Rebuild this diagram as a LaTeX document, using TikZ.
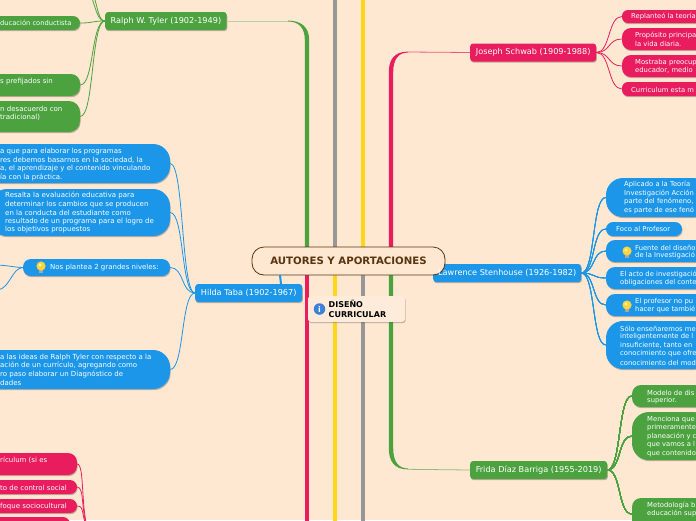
\documentclass[tikz,border=0pt]{standalone}
\usepackage{fontspec}
\setmainfont{DejaVu Sans}
\usetikzlibrary{shadows,calc}
\definecolor{bg}{HTML}{FEE8D2}
\definecolor{cgreen}{HTML}{4CA23F}
\definecolor{cred}{HTML}{E91C5E}
\definecolor{cblue}{HTML}{1B96E8}
\definecolor{cgrey}{HTML}{979797}
\definecolor{cyellow}{HTML}{FFD618}
\definecolor{cbrown}{HTML}{5A3510}
\definecolor{cbulb}{HTML}{FFD23F}
\definecolor{cinfo}{HTML}{3B82D8}
\tikzset{
 x=1pt,y=-1pt,
 softshadow/.style={drop shadow={shadow xshift=0.6pt,shadow yshift=-1.2pt,opacity=.25,fill=black}},
 bigbox/.style={rounded corners=3pt,text=white,font=\fontsize{8.15}{10}\selectfont,inner sep=0pt,anchor=west,minimum height=18pt,align=center,softshadow},
 leafshape/.style={inner sep=0pt,softshadow},
 leaf/.style={text=white,font=\fontsize{7}{8.4}\selectfont,inner sep=0pt,align=left,anchor=west},
 rleaf/.style={leaf,font=\fontsize{6.8}{8.4}\selectfont},
 stem/.style={line width=4.5pt},
 twig/.style={line width=.8pt},
}
\newcommand{\leafbox}[7]{% name colour x1 y1 x2 y2 radius
 \node[leafshape,fill=#2,rounded corners=#7,minimum width=#5-#3,minimum height=#6-#4] (#1) at ({(#3+#5)/2},{(#4+#6)/2}) {};
}
\newcommand{\bulb}[2]{%
 \fill[gray!70] (#1-1.8,#2+3) rectangle (#1+1.8,#2+6);
 \fill[cbulb] (#1,#2-1) circle (4.6);
 \fill[yellow!40] (#1-1,#2-2) circle (1.7);
}
\newcommand{\joinlr}[3]{% colour, from node east, to node west
 \draw[twig,#1] (#2.east) .. controls ($(#2.east)+(14,0)$) and ($(#3.west)+(-14,0)$) .. (#3.west);
}
\begin{document}
\begin{tikzpicture}
\useasboundingbox (0,0) rectangle (696,520);
\clip (0,0) rectangle (696,520);
\fill[bg] (0,0) rectangle (696,520);
% main stems
\draw[stem,cgrey] (335,-5) -- (335,250);
\draw[stem,cyellow] (363,-5) -- (363,250);
\draw[stem,cyellow] (335,250) -- (335,525);
\draw[stem,cgrey] (363,250) -- (363,525);
\draw[stem,cred] (307,250) -- (307,525);
\fill[cgreen] (304.8,250) -- (304.8,40) .. controls (304.8,28) and (299,21.5) .. (288,21.5) -- (288,20.6) .. controls (302,20.6) and (309.2,28) .. (309.2,40) -- (309.2,250) -- cycle;
\fill[cred] (388.8,250) -- (388.8,72) .. controls (388.8,60) and (394,51.6) .. (408,51.6) -- (408,52.5) .. controls (398,52.5) and (393.2,60) .. (393.2,72) -- (393.2,250) -- cycle;
\fill[cgreen] (388.8,250) -- (388.8,448) .. controls (388.8,461) and (394,469.4) .. (408,469.4) -- (408,468.5) .. controls (398,468.5) and (393.2,461) .. (393.2,448) -- (393.2,250) -- cycle;
% level two boxes
\node[bigbox,fill=cgreen,minimum width=121.5pt] (tyler) at (105,21) {Ralph W. Tyler (1902-1949)};
\node[bigbox,fill=cblue,minimum width=107pt] (taba) at (195,293) {Hilda Taba (1902-1967)};
\node[bigbox,fill=cred,minimum width=126pt] (schwab) at (470,52.5) {Joseph Schwab (1909-1988)};
\node[bigbox,fill=cblue,minimum width=148pt] (stenhouse) at (433,273) {};
\node[bigbox,fill=cgreen,minimum width=137pt] (frida) at (470,470) {Frida Díaz Barriga (1955-2019)};
\draw[line width=.8pt,cgreen!35!bg] (tyler.east) -- (288,21);
\draw[line width=.8pt,cred!70!bg] (408,52) -- (schwab.west);
\draw[line width=.8pt,cgreen!60!bg] (408,469.3) -- (frida.west);
% leaf shapes
\leafbox{g1}{cgreen}{-30}{16}{80}{30}{7pt}
\leafbox{g2}{cgreen}{-30}{74}{80}{96}{9pt}
\leafbox{g3}{cgreen}{-30}{101}{80}{132}{11pt}
\leafbox{b1}{cblue}{-40}{144}{170}{183}{17pt}
\leafbox{b2}{cblue}{-10}{189}{170}{236}{17pt}
\leafbox{b3}{cblue}{23}{259}{170}{276}{8pt}
\leafbox{b4}{cblue}{-40}{350}{170}{389}{17pt}
\leafbox{r1}{cred}{-30}{453}{77}{475}{9pt}
\leafbox{r2}{cred}{-30}{480}{77}{494}{7pt}
\leafbox{r3}{cred}{-30}{499}{77}{513}{7pt}
\leafbox{r4}{cred}{-30}{517}{70}{535}{7pt}
\leafbox{s1}{cred}{622}{10}{710}{23}{6pt}
\leafbox{s2}{cred}{622}{28}{710}{50}{9pt}
\leafbox{s3}{cred}{622}{55}{710}{77}{9pt}
\leafbox{s4}{cred}{622}{82}{710}{96}{6pt}
\leafbox{h1}{cblue}{606}{178}{710}{217}{17pt}
\leafbox{h2}{cblue}{606}{222}{682}{236}{7pt}
\leafbox{h3}{cblue}{606}{240}{710}{262}{9pt}
\leafbox{h4}{cblue}{606}{267}{710}{289}{9pt}
\leafbox{h5}{cblue}{606}{294}{710}{316}{9pt}
\leafbox{h6}{cblue}{606}{321}{710}{369}{17pt}
\leafbox{f1}{cgreen}{632}{385}{710}{407}{9pt}
\leafbox{f2}{cgreen}{632}{412}{710}{460}{17pt}
\leafbox{f3}{cgreen}{632}{498}{710}{530}{9pt}
% connectors
\foreach \n in {g1,g2,g3} \joinlr{cgreen}{\n}{tyler}
\coordinate (up1) at (92,-2);
\coordinate (up2) at (94.5,-2);
\draw[twig,cgreen] (tyler.west) .. controls (98,21) and (96,10) .. (up1);
\draw[twig,cgreen] (tyler.west) .. controls (99,21) and (98,10) .. (up2);
\foreach \n in {b1,b2,b3,b4} \joinlr{cblue}{\n}{taba}
\coordinate (far1) at (-2,265);
\coordinate (far2) at (-2,290);
\draw[twig,cblue] (b3.west) .. controls (12,267) and (12,266) .. (far1);
\draw[twig,cblue] (b3.west) .. controls (12,268) and (10,288) .. (far2);
\foreach \n in {s1,s2,s3,s4} \joinlr{cred}{schwab}{\n}
\foreach \n in {h1,h2,h3,h4,h5,h6} \joinlr{cblue}{stenhouse}{\n}
\foreach \n in {f1,f2,f3} \joinlr{cgreen}{frida}{\n}
\coordinate (down) at (90,535);
\foreach \n in {r1,r2,r3,r4}
 \draw[twig,cred] (\n.east) .. controls ($(\n.east)+(8,0)$) and (80,515) .. (down);
% texts
\node[leaf,font=\fontsize{6.7}{8.4}\selectfont] (l1) at (0,23) {ducación conductista};
\node[leaf] (l2) at (0,81.5) {s prefijados sin};
\node[leaf] (l3a) at (0,108.5) {n desacuerdo con};
\node[leaf] (l3b) at (0,117.5) {tradicional)};
\node[leaf] (t1a) at (0,151.5) {a que para elaborar los programas};
\node[leaf] (t1b) at (0,160.3) {res debemos basarnos en la sociedad, la};
\node[leaf] (t1c) at (0,168.8) {a, el aprendizaje y el contenido vinculando};
\node[leaf] (t1d) at (0,177.5) {ía con la práctica.};
\node[leaf] (t2a) at (5,195.5) {Resalta la evaluación educativa para};
\node[leaf] (t2b) at (5,204.5) {determinar los cambios que se producen};
\node[leaf] (t2c) at (5,212.5) {en la conducta del estudiante como};
\node[leaf] (t2d) at (5,221.5) {resultado de un programa para el logro de};
\node[leaf] (t2e) at (5,229.5) {los objetivos propuestos};
\bulb{41}{267}
\node[leaf] (t3) at (50,267.5) {Nos plantea 2 grandes niveles:};
\node[leaf] (t4a) at (0,357.5) {a las ideas de Ralph Tyler con respecto a la};
\node[leaf] (t4b) at (0,365.5) {ación de un currículo, agregando como};
\node[leaf] (t4c) at (0,374.2) {ro paso elaborar un Diagnóstico de};
\node[leaf] (t4d) at (0,382.5) {dades};
\node[leaf] (rt1) at (0,460.5) {rículum (si es};
\node[leaf] (rt2) at (0,487.5) {to de control social};
\node[leaf] (rt3) at (0,506.5) {foque sociocultural};
\node[rleaf] (st1) at (631,16.5) {Replanteó la teoría};
\node[rleaf] (st2a) at (635,35.5) {Propósito principa};
\node[rleaf] (st2b) at (635,43.5) {la vida diaria.};
\node[rleaf] (st3a) at (635,62.5) {Mostraba preocup};
\node[rleaf] (st3b) at (635,70.5) {educador, medio};
\node[rleaf] (st4) at (631,89.5) {Curriculum esta m};
\node[rleaf] (h1a) at (624,184.5) {Aplicado a la Teoría};
\node[rleaf] (h1b) at (624,193.5) {Investigación Acción};
\node[rleaf] (h1c) at (624,201.5) {parte del fenómeno,};
\node[rleaf] (h1d) at (624,210.5) {es parte de ese fenó};
\node[rleaf] (ht2) at (616,228.5) {Foco al Profesor};
\bulb{627}{252}
\node[rleaf] (h3a) at (635,247.5) {Fuente del diseño};
\node[rleaf] (h3b) at (635,255.5) {de la Investigació};
\node[rleaf] (h4a) at (620,274.5) {El acto de investigació};
\node[rleaf] (h4b) at (620,282.5) {obligaciones del conte};
\bulb{627}{306}
\node[rleaf] (h5a) at (635,301.5) {El profesor no pu};
\node[rleaf] (h5b) at (635,309.5) {hacer que tambié};
\node[rleaf] (h6a) at (620,328.5) {Sólo enseñaremos me};
\node[rleaf] (h6b) at (620,336.5) {inteligentemente de l};
\node[rleaf] (h6c) at (620,345) {insuficiente, tanto en};
\node[rleaf] (h6d) at (620,353.5) {conocimiento que ofre};
\node[rleaf] (h6e) at (620,362.5) {conocimiento del mod};
\node[rleaf] (f1a) at (647,392.5) {Modelo de dis};
\node[rleaf] (f1b) at (647,400.5) {superior.};
\node[rleaf] (f2a) at (647,419.5) {Menciona que};
\node[rleaf] (f2b) at (647,427.5) {primeramente};
\node[rleaf] (f2c) at (647,436.5) {planeación y c};
\node[rleaf] (f2d) at (647,444.5) {que vamos a l};
\node[rleaf] (f2e) at (647,453.5) {que contenido};
\node[rleaf] (f3a) at (647,505.5) {Metodología b};
\node[rleaf] (f3b) at (647,513.5) {educación sup};
% centre
\node[draw=cbrown,line width=.8pt,fill=bg,rounded corners=12pt,minimum width=193pt,minimum height=28pt,inner sep=0pt,text=cbrown,font=\bfseries\fontsize{10.2}{12}\selectfont] (root) at (348.5,261) {AUTORES Y APORTACIONES};
\coordinate (tabatop) at (281,284);
\coordinate (rootfoot) at (280,275);
\draw[line width=2pt,cblue] (rootfoot) -- (tabatop);
\node[text=white,font=\fontsize{8.15}{10}\selectfont,inner sep=0pt] (stenlabel) at (stenhouse.center) {Lawrence Stenhouse (1926-1982)};
% callout
\node[fill=bg!85!white,rounded corners=3pt,minimum width=97pt,minimum height=26pt,inner sep=0pt,softshadow] (callout) at (356.5,309) {};
\node[circle,fill=cinfo,inner sep=0pt,minimum size=11.5pt,text=white,font=\bfseries\fontsize{8}{8}\selectfont] (info) at (319.5,309) {i};
\node[anchor=west,inner sep=0pt,align=left,font=\bfseries\fontsize{8}{10}\selectfont,text=black] (note) at (328.5,309) {DISEÑO\\CURRICULAR};
\end{tikzpicture}
\end{document}
